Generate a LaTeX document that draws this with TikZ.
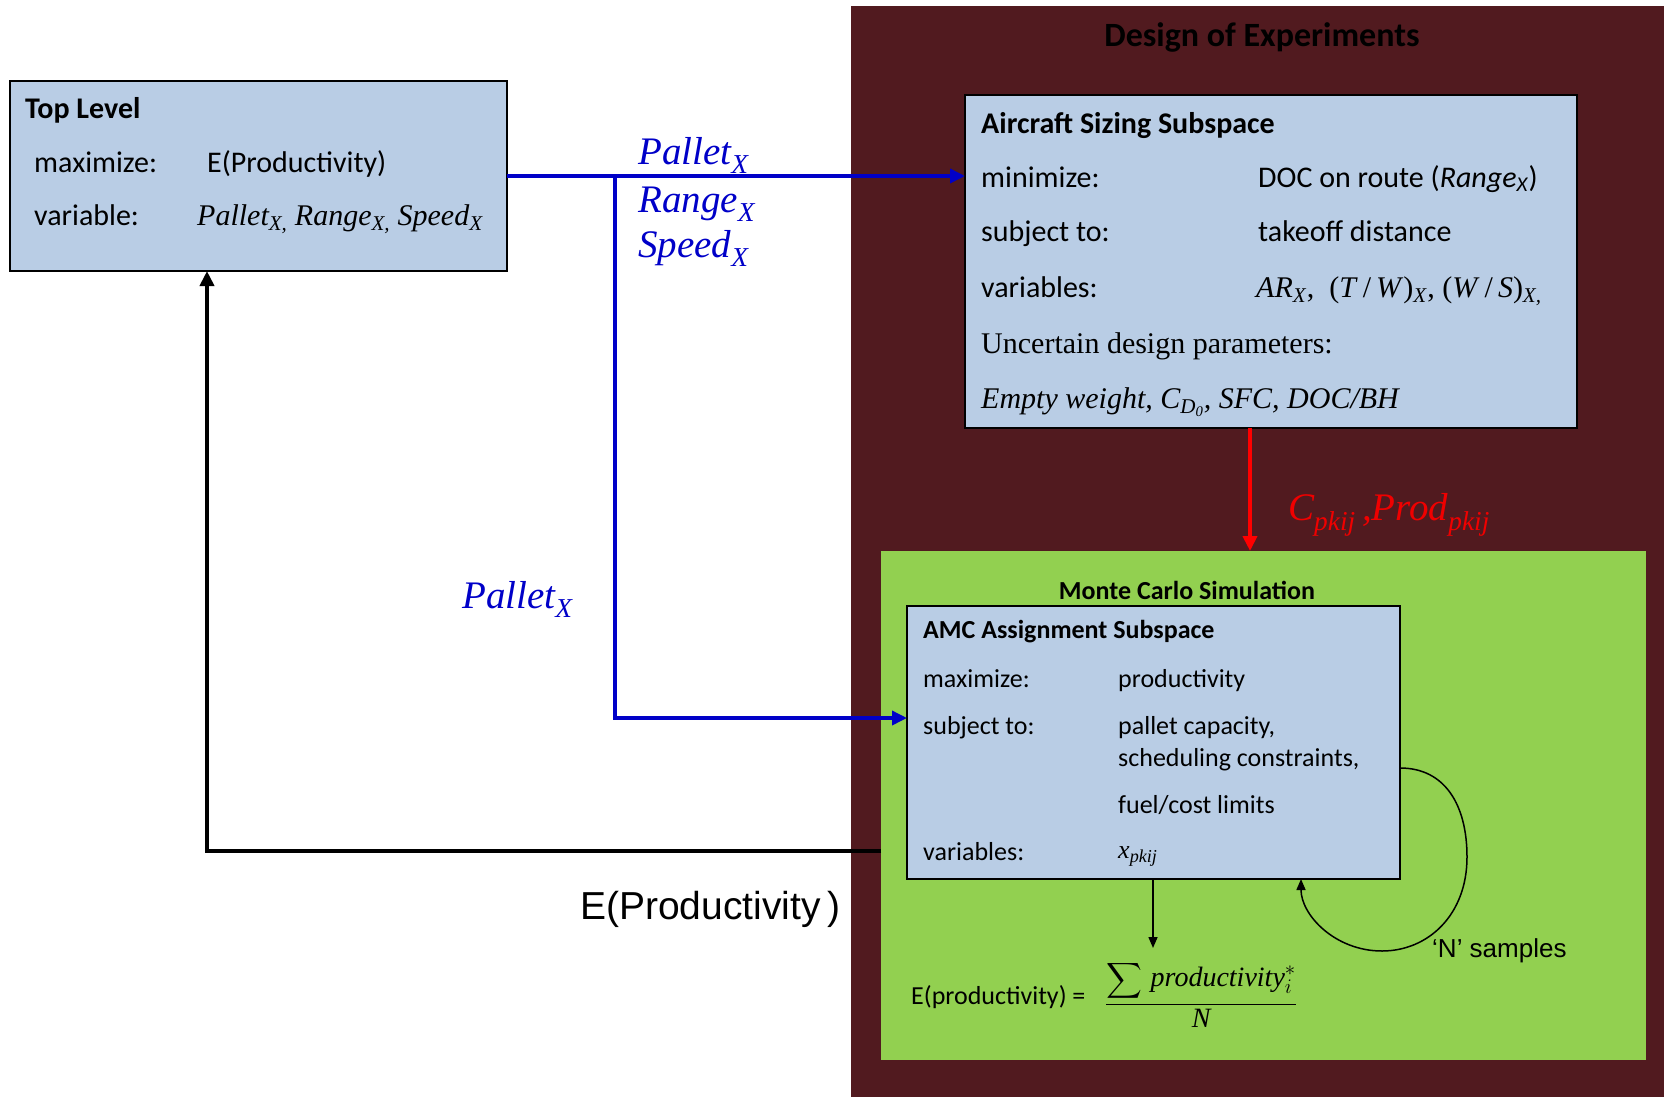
\documentclass[tikz,border=0pt]{standalone}
\usepackage{amsmath}
\usepackage{fontspec}
\setmainfont{Carlito}
\newfontfamily\tms{Liberation Serif}
\newfontfamily\arl{Liberation Sans}
\usetikzlibrary{arrows.meta,positioning}
\definecolor{boxblue}{RGB}{185,205,229}
\definecolor{doered}{RGB}{81,26,31}
\definecolor{mcgreen}{RGB}{146,208,80}
\definecolor{lineblue}{RGB}{0,0,200}
\definecolor{labelred}{RGB}{240,0,0}
\newcommand{\sx}[1]{\textsubscript{\textit{#1}}}

\begin{document}
\begin{tikzpicture}[x=1pt,y=-1pt,
  area/.style={inner sep=0pt,outer sep=0pt,anchor=north west},
  box/.style={area,draw=black,line width=2pt,fill=boxblue},
  big/.style={anchor=base west,inner sep=0pt,font=\fontsize{30}{36}\selectfont},
  small/.style={anchor=base west,inner sep=0pt,font=\fontsize{26}{31}\selectfont},
  flow/.style={lineblue,line width=3.5pt},
  fat/.style={-{Triangle[length=15pt,width=14pt]}},
  thin/.style={line width=1.5pt,-{Triangle[length=11pt,width=9pt]}},
  bluetag/.style={anchor=base west,inner sep=0pt,text=lineblue,font=\tms\itshape\fontsize{39}{44}\selectfont}]
\tikzstyle{every node}+=[inner sep=0pt]
\useasboundingbox (0,0) rectangle (1664,1097);
\node[area,fill=doered,minimum width=813pt,minimum height=1091pt] (doe) at (851,6) {};
\node[anchor=base,font=\bfseries\fontsize{34}{40}\selectfont] (doetitle) at (1262,47) {Design of Experiments};
\node[area,fill=mcgreen,minimum width=765pt,minimum height=509pt] (mc) at (881,551) {};
\node[anchor=base,font=\bfseries\fontsize{26}{31}\selectfont] (mctitle) at (1187,599) {Monte Carlo Simulation};

\node[box,minimum width=497pt,minimum height=190pt] (top) at (9.5,81) {};
\node[big] (toptitle) at (25,119) {\bfseries Top Level};
\node[big] (topmax) at (34,172) {maximize:};
\node[big] (topobj) at (207,172) {E(Productivity)};
\node[big] (topvar) at (34,225) {variable:};
\node[big] (topvals) at (197,225) {\tms\itshape Pallet\sx{X,} Range\sx{X,} Speed\sx{X}};

\node[box,minimum width=612pt,minimum height=333pt] (sizing) at (965,95) {};
\node[big] (sizetitle) at (981,133) {\bfseries Aircraft Sizing Subspace};
\node[big] (sizemin) at (981,187) {minimize:};
\node[big] (sizeobj) at (1258,187) {DOC on route (\textit{Range}\sx{X})};
\node[big] (sizesub) at (981,241) {subject to:};
\node[big] (sizecon) at (1258,241) {takeoff distance};
\node[big] (sizevar) at (981,297) {variables:};
\node[big] (sizevals) at (1256,297) {\tms\textit{AR}\sx{X},~~(\textit{T}\,/\,\textit{W})\sx{X}, (\textit{W}\,/\,\textit{S})\sx{X,}};
\node[big] (sizeunc) at (981,353) {\tms Uncertain design parameters:};
\node[big] (sizepar) at (981,408) {\tms\itshape Empty weight, C\textsubscript{D\textsubscript{0}}, SFC, DOC/BH};

\node[box,minimum width=493pt,minimum height=273pt] (amc) at (907,606) {};
\node[small] (amctitle) at (923,638) {\bfseries AMC Assignment Subspace};
\node[small] (amcmax) at (923,687) {maximize:};
\node[small] (amcobj) at (1118,687) {productivity};
\node[small] (amcsub) at (923,734) {subject to:};
\node[small] (amccon) at (1118,734) {pallet capacity,};
\node[small] (amccon2) at (1118,766) {scheduling constraints,};
\node[small] (amccon3) at (1118,813) {fuel/cost limits};
\node[small] (amcvar) at (923,860) {variables:};
\node[small] (amcvals) at (1118,858) {\tms\itshape x\textsubscript{pkij}};

\node[anchor=base west,font=\fontsize{26}{31}\selectfont] (expect) at (911,1004) {E(productivity) =};
\node[anchor=west,font=\fontsize{28}{33}\selectfont] (expfrac) at (1105,994) {$\displaystyle\frac{\displaystyle\sum\,\mbox{\tms\itshape productivity}^{*}_{i}}{\mbox{\tms\itshape N}}$};
\node[anchor=base west,font=\arl\fontsize{26}{31}\selectfont] (samples) at (1432,957) {‘N’ samples};

\node[bluetag] (tagpallet) at (638,164) {Pallet\textsubscript{X}};
\node[bluetag] (tagrange) at (638,212) {Range\textsubscript{X}};
\node[bluetag] (tagspeed) at (638,257) {Speed\textsubscript{X}};
\node[bluetag] (tagpallet2) at (462,608) {Pallet\textsubscript{X}};
\node[anchor=base west,text=labelred,font=\tms\itshape\fontsize{39}{44}\selectfont] (tagcost) at (1288,520) {C\textsubscript{pkij}\,,Prod\textsubscript{pkij}};
\node[anchor=base west,font=\arl\fontsize{39}{44}\selectfont] (tagexp) at (580,919) {E(Productivity\,)};

\coordinate (split) at (615,176);
\coordinate (bend) at (615,718);
\coordinate (redx) at (1250,0);
\coordinate (fbcorner) at (207,851);
\coordinate (sumtop) at (1153,948);
\coordinate (loopout) at (1400,768);
\coordinate (loopback) at (1301,0);

\draw[flow,fat] (top.east |- split) -- (sizing.west |- split);
\draw[flow,fat] (split) -- (bend) -- (amc.west |- bend);
\draw[red,line width=4pt,fat] (sizing.south -| redx) -- (mc.north -| redx);
\draw[line width=4pt,fat] (mc.west |- fbcorner) -- (fbcorner) -- (top.south -| fbcorner);
\draw[thin] (amc.south -| sumtop) -- (sumtop);
\draw[thin] (amc.east |- loopout) .. controls (1445,768) and (1467,805) .. (1467,857) .. controls (1467,915) and (1428,951) .. (1382,951) .. controls (1335,951) and (1301,915) .. (amc.south -| loopback);
\end{tikzpicture}
\end{document}
